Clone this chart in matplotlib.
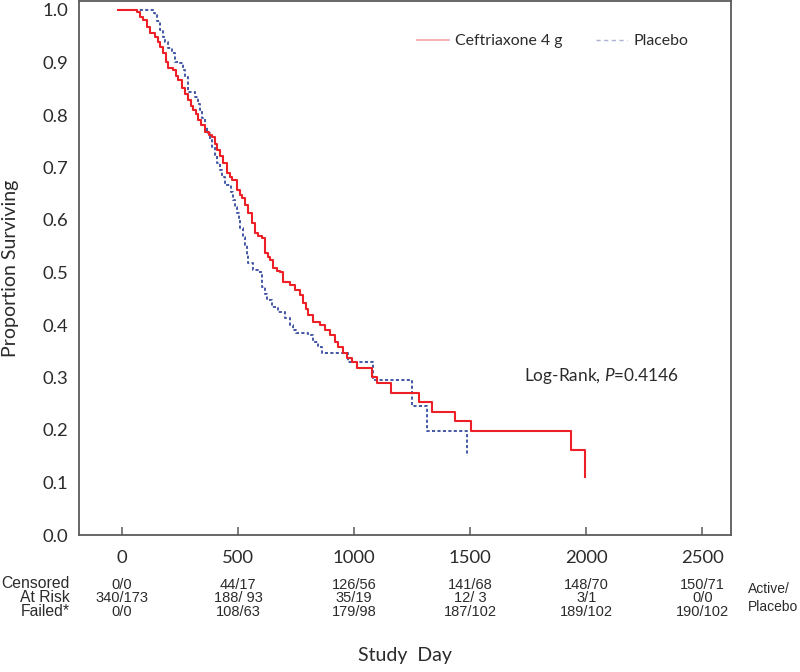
import matplotlib
matplotlib.use('Agg')
import matplotlib.pyplot as plt
from matplotlib.lines import Line2D
from matplotlib import font_manager

# ---------------- data ----------------
cef_days = [-17, 65, 78, 90, 108, 121, 142, 155, 164, 177, 190, 198, 220, 233, 241, 259, 271, 284,
            297, 306, 319, 327, 340, 358, 375, 388, 401, 409, 422, 435, 452, 465, 474, 495, 508,
            517, 530, 543, 560, 573, 586, 603, 616, 629, 638, 651, 668, 681, 694, 724, 745, 767,
            780, 793, 801, 823, 853, 875, 896, 918, 931, 952, 969, 991, 1012, 1077, 1099, 1159,
            1280, 1336, 1435, 1504, 1935, 1995]
cef_surv = [1.0, 0.996, 0.987, 0.981, 0.968, 0.956, 0.949, 0.939, 0.930, 0.918, 0.901, 0.890,
            0.886, 0.874, 0.867, 0.851, 0.840, 0.829, 0.817, 0.810, 0.802, 0.790, 0.781, 0.768,
            0.762, 0.758, 0.745, 0.733, 0.722, 0.709, 0.690, 0.682, 0.676, 0.657, 0.648, 0.642,
            0.629, 0.613, 0.594, 0.575, 0.570, 0.566, 0.537, 0.530, 0.524, 0.509, 0.503, 0.501,
            0.482, 0.476, 0.467, 0.457, 0.442, 0.430, 0.419, 0.406, 0.400, 0.390, 0.381, 0.368,
            0.358, 0.347, 0.337, 0.330, 0.318, 0.301, 0.290, 0.270, 0.253, 0.234, 0.217, 0.198,
            0.162, 0.110]

pla_days = [-17, 134, 142, 151, 164, 177, 185, 198, 215, 228, 250, 263, 271, 284, 315, 327, 336,
            345, 358, 366, 379, 388, 401, 409, 422, 431, 444, 470, 478, 487, 495, 504, 508, 521,
            530, 539, 543, 564, 586, 603, 616, 625, 646, 672, 702, 724, 737, 750, 801, 823, 844,
            862, 974, 1081, 1249, 1314, 1486]
pla_surv = [1.0, 0.995, 0.990, 0.979, 0.962, 0.949, 0.939, 0.928, 0.918, 0.901, 0.899, 0.886,
            0.872, 0.844, 0.834, 0.821, 0.810, 0.794, 0.777, 0.766, 0.752, 0.739, 0.724, 0.709,
            0.695, 0.682, 0.667, 0.653, 0.638, 0.625, 0.613, 0.600, 0.585, 0.568, 0.552, 0.533,
            0.518, 0.505, 0.501, 0.472, 0.459, 0.448, 0.434, 0.425, 0.413, 0.400, 0.390, 0.385,
            0.381, 0.368, 0.358, 0.347, 0.330, 0.295, 0.246, 0.198, 0.150]

x_ticks = [0, 500, 1000, 1500, 2000, 2500]
y_ticks = [0.0, 0.1, 0.2, 0.3, 0.4, 0.5, 0.6, 0.7, 0.8, 0.9, 1.0]

series_labels = ["Ceftriaxone 4 g", "Placebo"]
row_labels = ["Censored", "At Risk", "Failed*"]
censored = ["0/0", "44/17", "126/56", "141/68", "148/70", "150/71"]
at_risk = ["340/173", "188/ 93", "35/19", "12/ 3", "3/1", "0/0"]
failed = ["0/0", "108/63", "179/98", "187/102", "189/102", "190/102"]
group_note = "Active/\nPlacebo"
stat_text = "Log-Rank, $\\it{P}$=0.4146"

# ---------------- style ----------------
MAIN_FONT = 'Lato'
names = {f.name for f in font_manager.fontManager.ttflist}
TABLE_FONT = 'Liberation Sans Narrow' if 'Liberation Sans Narrow' in names else 'Liberation Sans'
plt.rcParams['font.family'] = [MAIN_FONT, 'DejaVu Sans']
plt.rcParams['mathtext.fontset'] = 'custom'
plt.rcParams['mathtext.it'] = MAIN_FONT + ':italic'
plt.rcParams['mathtext.rm'] = MAIN_FONT

RED = '#ee2027'
BLUE = '#4357a5'
SPINE = '#5a5a5a'
TXT = '#2b2b2b'

W, H = 800, 672
fig = plt.figure(figsize=(W / 100, H / 100), dpi=100)
L, R, T, B = 79, 730.7, 1, 535
ax = fig.add_axes([L / W, 1 - B / H, (R - L) / W, (B - T) / H])

ax.set_xlim(-185, 2622)
ax.set_ylim(0, 534 / 525)

ax.step(cef_days, cef_surv, where='post', color=RED, lw=1.5, zorder=3)
ax.step(pla_days, pla_surv, where='post', color=BLUE, lw=1.4, linestyle=(0, (1.6, 1.2)), zorder=2)

for s in ax.spines.values():
    s.set_color(SPINE)
    s.set_linewidth(1.3)

ax.set_xticks(x_ticks)
ax.set_xticklabels([str(v) for v in x_ticks])
ax.set_yticks(y_ticks)
ax.set_yticklabels([f"{v:.1f}" for v in y_ticks])
ax.tick_params(axis='x', direction='in', length=6, width=1.1, color=SPINE, pad=11,
               labelsize=13.3, labelcolor=TXT)
ax.tick_params(axis='y', length=0, pad=8, labelsize=13.3, labelcolor=TXT)

ax.set_ylabel("Proportion Surviving", fontsize=14, color=TXT, labelpad=17)

# legend
handles = [Line2D([], [], color='#f4a3a6', lw=1.2),
           Line2D([], [], color='#aab2d6', lw=1.0, linestyle=(0, (3, 2.5)))]
leg = ax.legend(handles, series_labels, loc='upper left', bbox_to_anchor=(0.5187, 0.938),
                ncol=2, frameon=False, fontsize=11.4, handlelength=2.0, handletextpad=0.4,
                columnspacing=2.1, borderpad=0, borderaxespad=0)
for t in leg.get_texts():
    t.set_color(TXT)

ax.text((524 - L) / (R - L), (B - 376) / (B - T), stat_text, transform=ax.transAxes,
        fontsize=12.4, color=TXT, ha='left', va='center')

# at-risk table
xtr = ax.get_xaxis_transform()
row_y = [583, 597, 612]
for rl, y in zip(row_labels, row_y):
    fig.text(70 / W, 1 - y / H, rl, ha='right', va='center', fontsize=11.3,
             family=TABLE_FONT, color=TXT)
for row, y in zip([censored, at_risk, failed], [585, 598, 612]):
    for xv, s in zip(x_ticks, row):
        ax.text(xv, (B - y) / (B - T), s, transform=xtr, ha='center', va='center',
                fontsize=10.5, family=TABLE_FONT, color=TXT, clip_on=False)
fig.text(748 / W, 1 - 598 / H, group_note, ha='left', va='center', fontsize=10,
         family=TABLE_FONT, color=TXT, linespacing=1.3)

fig.text(405 / W, 1 - 655 / H, "Study  Day", ha='center', va='center', fontsize=14, color=TXT)

fig.savefig('out.png', dpi=100)
